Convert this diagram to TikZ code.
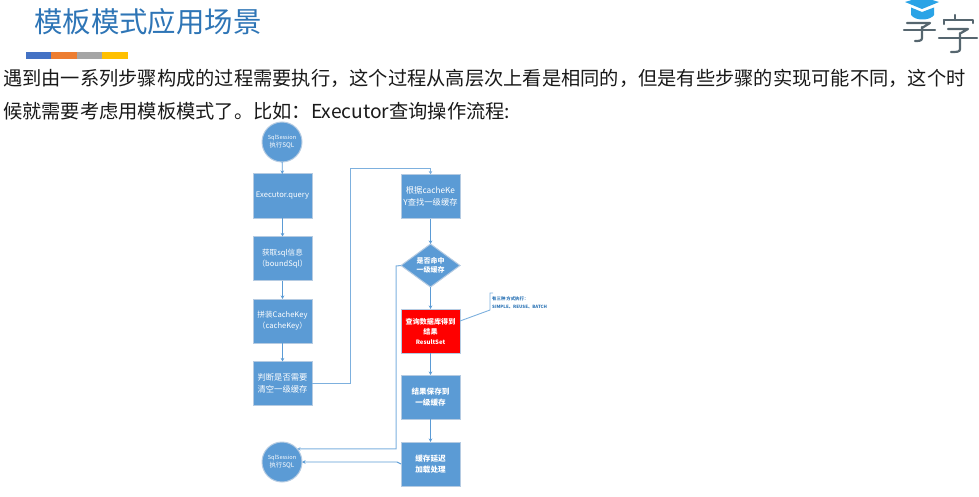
\documentclass[tikz,border=0pt]{standalone}
\usepackage{fontspec}
\setmainfont{Noto Sans CJK SC}
\usetikzlibrary{shapes.geometric,arrows.meta}
\definecolor{boxblue}{HTML}{5B9BD5}
\definecolor{boxedge}{HTML}{B5CBE2}
\definecolor{titleblue}{HTML}{2E75B6}
\definecolor{linkblue}{HTML}{5B9BD5}
\definecolor{paleline}{HTML}{7DB0DE}
\definecolor{logoink}{HTML}{56666F}
\definecolor{logocap}{HTML}{2AA3E6}
\definecolor{barblue}{HTML}{4472C4}
\definecolor{barorange}{HTML}{ED7D31}
\definecolor{bargrey}{HTML}{A5A5A5}
\definecolor{baryellow}{HTML}{FFC000}
\tikzset{
  x=1pt,y=-1pt,
  flowbox/.style={rectangle,draw=boxedge,line width=1pt,fill=boxblue,text=white,
    minimum width=59pt,minimum height=44pt,inner sep=0pt,outer sep=0pt,align=center,
    font=\fontsize{7.6}{11}\selectfont},
  widebox/.style={flowbox,font=\fontsize{8.3}{11.5}\selectfont},
  boldbox/.style={flowbox,font=\fontsize{7.6}{10.5}\selectfont\bfseries},
  redbox/.style={boldbox,fill=red,font=\fontsize{7.1}{10}\selectfont\bfseries},
  terminal/.style={circle,draw=boxedge,line width=1pt,fill=boxblue,text=white,
    minimum size=40pt,inner sep=0pt,outer sep=0pt,align=center,
    font=\fontsize{5.6}{9}\selectfont},
  decision/.style={diamond,draw=boxedge,line width=1pt,fill=boxblue,text=white,
    minimum width=59pt,minimum height=43pt,aspect=1.37,inner sep=0pt,outer sep=0pt,align=center,
    font=\fontsize{7}{9.5}\selectfont\bfseries},
  flow/.style={draw=linkblue,line width=.9pt,-{Stealth[length=3.5pt,width=3.5pt]}},
  paleflow/.style={draw=paleline,line width=1pt,-{Stealth[length=3.5pt,width=3.5pt]}},
  noteline/.style={draw=paleline,line width=.9pt},
  bodytext/.style={anchor=west,inner sep=0pt,text=black!90,font=\fontsize{19.25}{24}\selectfont},
}
\begin{document}
\begin{tikzpicture}
\useasboundingbox (0,0) rectangle (979,497);
% heading
\node[anchor=west,inner sep=0pt,text=titleblue,font=\fontsize{28.4}{34}\selectfont] (title) at (34,22) {模板模式应用场景};
\fill[barblue] (26,52) rectangle (51,59);
\fill[barorange] (51,52) rectangle (77,59);
\fill[bargrey] (77,52) rectangle (102,59);
\fill[baryellow] (102,52) rectangle (128,59);
% logo
\fill[logocap] (905,2) -- (922,-3) -- (939,2) -- (922,9) -- cycle;
\fill[logocap] (911,7.5) -- (922,12) -- (934,7.5) -- (934,15) .. controls (930,21) and (915,21) .. (911,15) -- cycle;
\begin{scope}[draw=logoink,line width=2.2pt,line cap=round,line join=round]
\draw (907,23) -- (930,23) -- (922,28);
\draw (904,30) -- (935,30);
\draw (922,27) -- (922,38) .. controls (922,41) and (919,41) .. (915,41);
\draw (955,15) -- (955,20);
\draw (944,20) -- (973,20) -- (973,23);
\draw (944,20) -- (944,24);
\draw (948,29) -- (968,29) -- (961,33);
\draw (939,38) -- (977,38);
\draw (960,33) -- (960,49) .. controls (960,52) and (957,52) .. (951,52);
\end{scope}
% body text
\node[bodytext] (line1) at (3,78) {遇到由一系列步骤构成的过程需要执行，这个过程从高层次上看是相同的，但是有些步骤的实现可能不同，这个时};
\node[bodytext] (line2) at (3,111) {候就需要考虑用模板模式了。比如：Executor查询操作流程:};
% left column
\node[terminal] (start) at (282,142) {SqlSession\\[-1pt]{\fontsize{6.4}{9}\selectfont 执行SQL}};
\node[flowbox] (exec) at (282.5,196) {Executor.query};
\node[flowbox] (info) at (282.5,258.5) {获取sql信息\\（boundSql）};
\node[flowbox] (key) at (282.5,321) {拼装CacheKey\\（cacheKey）};
\node[widebox] (clear) at (282.5,383.5) {判断是否需要\\清空一级缓存};
\node[terminal] (stop) at (282,462) {SqlSession\\[-1pt]{\fontsize{6.4}{9}\selectfont 执行SQL}};
% right column
\node[widebox] (find) at (430.5,196.5) {根据cacheKe\\Y查找一级缓存};
\node[decision] (hit) at (430.5,265.5) {是否命中\\一级缓存};
\node[redbox] (db) at (430.5,331) {查询数据库得到\\结果\\{\fontsize{6}{9}\selectfont ResultSet}};
\node[boldbox] (save) at (430.5,397) {结果保存到\\一级缓存};
\node[boldbox] (lazy) at (430.5,464) {缓存延迟\\加载处理};
% note
\node[anchor=north west,inner sep=0pt,align=left,text=titleblue,font=\fontsize{4.4}{8}\selectfont\bfseries] (note) at (492,296) {有三种 方式执行：\\SIMPLE、REUSE、BATCH};
% connectors
\draw[flow] (start) -- (exec);
\draw[flow] (exec) -- (info);
\draw[flow] (info) -- (key);
\draw[flow] (key) -- (clear);
\coordinate (bendA) at (350,169);
\draw[paleflow] (clear.east) -| (bendA) -| (find.north);
\draw[flow] (find) -- (hit);
\draw[flow] (hit) -- (db);
\draw[flow] (db) -- (save);
\draw[flow] (save) -- (lazy);
\coordinate (bendB) at (396,266);
\draw[paleflow] (hit.west) -- (bendB) |- (stop.41);
\coordinate (kink) at (397,462);
\draw[flow] (lazy.west) -- (kink) -- (stop.east);
\coordinate (noteA) at (493,293);
\coordinate (noteB) at (490,293);
\coordinate (noteC) at (490,310);
\draw[noteline] (noteA) -- (noteB) -- (noteC) -- ([yshift=10pt]db.east);
\end{tikzpicture}
\end{document}
